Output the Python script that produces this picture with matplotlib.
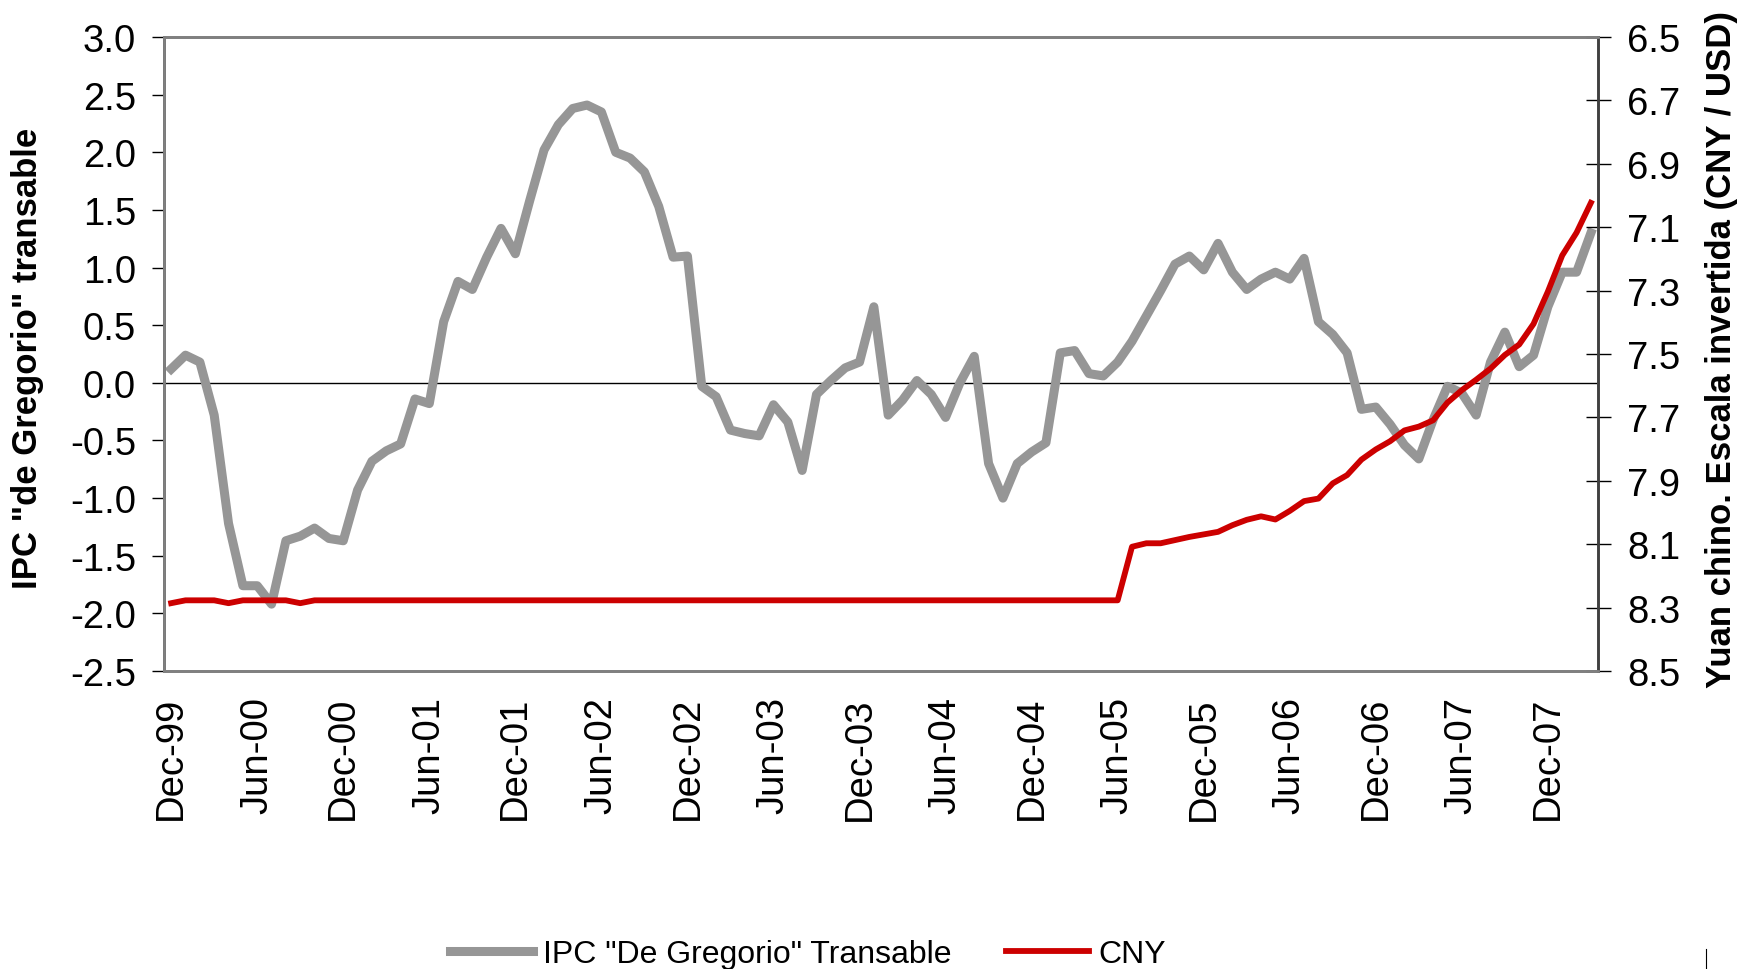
import numpy as np
import pandas as pd
import matplotlib
matplotlib.use('Agg')
from matplotlib import pyplot as plt
from matplotlib.lines import Line2D

plt.rcParams['font.family'] = ['Liberation Sans', 'DejaVu Sans']

# monthly data, Dec-99 .. Mar-08
months = pd.date_range('1999-12-01', periods=100, freq='MS')
month_labels = [m.strftime('%b-%y') for m in months]

ipc = [0.12, 0.24, 0.18, -0.28, -1.22, -1.76, -1.76, -1.92, -1.37, -1.33,
       -1.26, -1.35, -1.37, -0.93, -0.68, -0.59, -0.53, -0.14, -0.18, 0.53,
       0.88, 0.81, 1.09, 1.34, 1.12, 1.58, 2.02, 2.24, 2.38, 2.41,
       2.35, 2.00, 1.95, 1.83, 1.53, 1.09, 1.10, -0.03, -0.12, -0.41,
       -0.44, -0.46, -0.19, -0.34, -0.76, -0.10, 0.02, 0.13, 0.18, 0.66,
       -0.28, -0.15, 0.02, -0.10, -0.30, 0.00, 0.23, -0.70, -1.00, -0.70,
       -0.60, -0.52, 0.26, 0.28, 0.08, 0.06, 0.18, 0.36, 0.58, 0.80,
       1.03, 1.10, 0.98, 1.21, 0.96, 0.81, 0.90, 0.96, 0.90, 1.08,
       0.53, 0.42, 0.26, -0.23, -0.21, -0.36, -0.54, -0.66, -0.32, -0.03,
       -0.09, -0.28, 0.18, 0.44, 0.14, 0.24, 0.66, 0.96, 0.96, 1.30]

cny = [8.286, 8.277, 8.277, 8.277, 8.286, 8.277, 8.277, 8.277, 8.277, 8.286,
       8.277, 8.277, 8.277, 8.277, 8.277, 8.277, 8.277, 8.277, 8.277, 8.277,
       8.277, 8.277, 8.277, 8.277, 8.277, 8.277, 8.277, 8.277, 8.277, 8.277,
       8.277, 8.277, 8.277, 8.277, 8.277, 8.277, 8.277, 8.277, 8.277, 8.277,
       8.277, 8.277, 8.277, 8.277, 8.277, 8.277, 8.277, 8.277, 8.277, 8.277,
       8.277, 8.277, 8.277, 8.277, 8.277, 8.277, 8.277, 8.277, 8.277, 8.277,
       8.277, 8.277, 8.277, 8.277, 8.277, 8.277, 8.277, 8.108, 8.097, 8.097,
       8.087, 8.077, 8.069, 8.061, 8.040, 8.023, 8.012, 8.022, 7.995, 7.964,
       7.956, 7.908, 7.882, 7.833, 7.801, 7.775, 7.741, 7.729, 7.709, 7.653,
       7.614, 7.581, 7.546, 7.503, 7.470, 7.405, 7.303, 7.189, 7.117, 7.023]

left_ticks = np.arange(-2.5, 3.01, 0.5)
right_ticks = np.arange(6.5, 8.51, 0.2)

fs = 27.5
fig = plt.figure(figsize=(17.41, 9.70), dpi=100)
ax = fig.add_axes([0.0942, 0.3072, 0.8237, 0.6536])
ax2 = ax.twinx()

x = np.arange(len(ipc))
l1, = ax.plot(x, ipc, color='#969696', lw=6.5, solid_joinstyle='round', zorder=3)
ax.axhline(0, color='black', lw=1.0, zorder=2)
l2, = ax2.plot(x, cny, color='#cc0000', lw=4.2, solid_joinstyle='round')

ax.set_xlim(-0.5, len(ipc) - 0.5)
ax.set_ylim(-2.5, 3.0)
ax.set_yticks(left_ticks)
ax.set_yticklabels(['%.1f' % v for v in left_ticks])
ax2.set_ylim(8.5, 6.5)
ax2.set_yticks(right_ticks)
ax2.set_yticklabels(['%.1f' % v for v in right_ticks])

ax.set_xticks(x[::6])
ax.set_xticklabels(month_labels[::6], rotation=90, ha='center', va='top')

ax.tick_params(axis='y', direction='out', length=8.6, width=1, color='black',
               labelsize=fs, pad=11.5)
ax.tick_params(axis='x', length=0, labelsize=fs, pad=18)
ax2.tick_params(axis='y', direction='inout', length=18, width=1, color='black',
                labelsize=fs, pad=12)

for a in (ax, ax2):
    for s in a.spines.values():
        s.set_color('#808080')
        s.set_linewidth(2)
for a, side in ((ax, 'left'), (ax2, 'right')):
    a.spines[side].set_color('#404040')
    a.spines[side].set_linewidth(2)

fig.text(28 / 1741, 1 - 358 / 970, 'IPC "de Gregorio" transable', rotation=90,
         ha='center', va='center', fontsize=25, fontweight='bold')
fig.text(1722 / 1741, 1 - 350 / 970, 'Yuan chino. Escala invertida (CNY / USD)',
         rotation=90, ha='center', va='center', fontsize=25, fontweight='bold')

fig.legend([l1, l2], ['IPC "De Gregorio" Transable', 'CNY'], loc='center',
           bbox_to_anchor=(808 / 1741, 1 - 955 / 970), ncol=2, frameon=False,
           fontsize=23, handlelength=2.6, handletextpad=0.3, columnspacing=1.7,
           borderpad=0)

fig.add_artist(Line2D([1706 / 1741, 1706 / 1741], [0, 20 / 970], color='black',
                      lw=0.8, transform=fig.transFigure))

fig.savefig('out.png', dpi=100)
